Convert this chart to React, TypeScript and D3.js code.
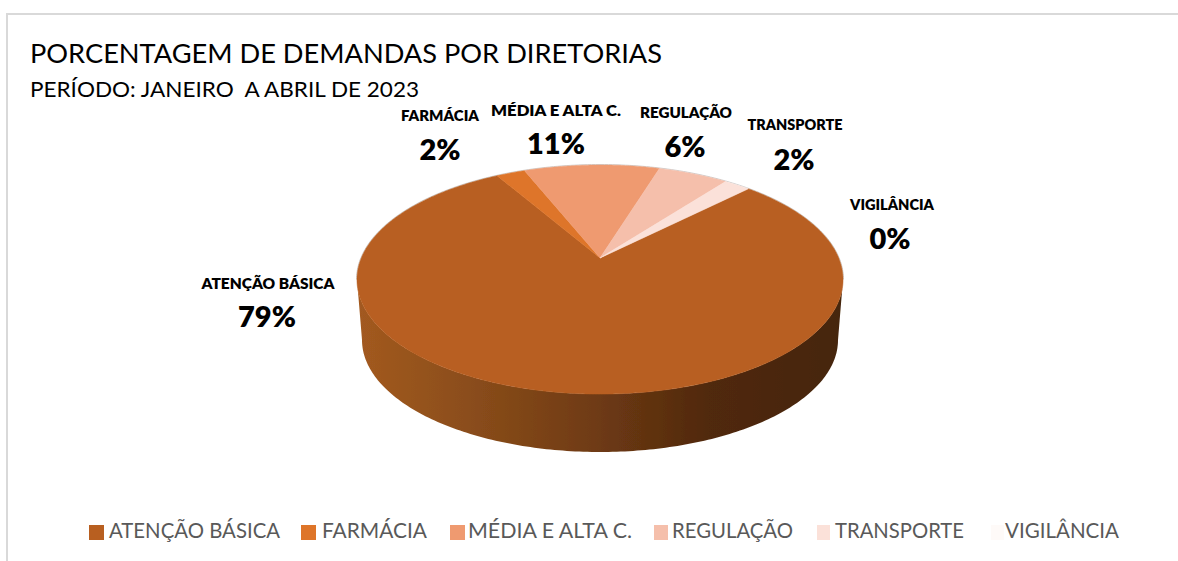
import React from "react";
import * as d3 from "d3";

const categories = ["ATENÇÃO BÁSICA", "FARMÁCIA", "MÉDIA E ALTA C.", "REGULAÇÃO", "TRANSPORTE", "VIGILÂNCIA"];
const values = [79.2, 2.3, 10.8, 5.6, 2.1, 0.0];
const colors = ["#B85F20", "#DE7529", "#EF9A70", "#F5BFAB", "#FBE1D9", "#FEFAF8"];
const titleText = "PORCENTAGEM DE DEMANDAS POR DIRETORIAS";
const subtitleText = "PERÍODO: JANEIRO  A ABRIL DE 2023";

const W = 1178, H = 561;
const FONT = "Lato, 'Open Sans', sans-serif";
// perspective disc
const APEX = { x: 600, y: 258 };
const RX = 238.7, RY = 110.5, K = 0.188;
const START_DEG = 44.8;
const DEPTH_BOTTOM = { cx: 600, cy: 340, rx: 238, ry: 112 };
const TOP_ELLIPSE = { cx: 600, cy: 279.5, rx: 243, ry: 114.5 };

const labelLayout = [
  { x: 268, y: 289, px: 267, py: 327, w: 133 },
  { x: 440, y: 121, px: 440, py: 160, w: 78 },
  { x: 556, y: 116, px: 556, py: 154, w: 130 },
  { x: 686, y: 118, px: 685, py: 157, w: 92 },
  { x: 795, y: 130, px: 794, py: 170, w: 95 },
  { x: 892, y: 210, px: 890, py: 249, w: 84 },
];
const legendLayout = [
  { sx: 89, sw: 15, tx: 109, tw: 171 },
  { sx: 301, sw: 15, tx: 322, tw: 105 },
  { sx: 450, sw: 15, tx: 468, tw: 164 },
  { sx: 654, sw: 14, tx: 672, tw: 121 },
  { sx: 817, sw: 13, tx: 835, tw: 129 },
  { sx: 991, sw: 13, tx: 1005, tw: 114 },
];

const project = (a: number): [number, number] => {
  const w = 1 + K * Math.cos(a);
  return [APEX.x + (RX * Math.sin(a)) / w, APEX.y - (RY * Math.cos(a)) / w];
};

const line = d3.line<[number, number]>().x((d) => d[0]).y((d) => d[1]);

const slicePath = (a0: number, a1: number): string => {
  const n = Math.max(2, Math.ceil((a1 - a0) / 0.01));
  const pts: [number, number][] = [[APEX.x, APEX.y]];
  d3.range(n + 1).forEach((i) => pts.push(project(a0 + ((a1 - a0) * i) / n)));
  return line(pts)! + "Z";
};

const wallPath = (): string => {
  const t = TOP_ELLIPSE, b = DEPTH_BOTTOM;
  const n = 180;
  const pts: [number, number][] = [];
  d3.range(n + 1).forEach((i) => {
    const a = Math.PI - (Math.PI * i) / n;
    pts.push([t.cx + t.rx * Math.cos(a), t.cy + t.ry * Math.sin(a)]);
  });
  d3.range(n + 1).forEach((i) => {
    const a = (Math.PI * i) / n;
    pts.push([b.cx + b.rx * Math.cos(a), b.cy + b.ry * Math.sin(a)]);
  });
  return line(pts)! + "Z";
};

const backRimPath = (): string => {
  const t = TOP_ELLIPSE;
  const n = 180;
  return line(
    d3.range(n + 1).map((i) => {
      const a = Math.PI + (Math.PI * i) / n;
      return [t.cx + (t.rx + 0.5) * Math.cos(a), t.cy + (t.ry + 0.5) * Math.sin(a)] as [number, number];
    })
  )!;
};

export default function App() {
  const pie = d3
    .pie<number>()
    .sort(null)
    .startAngle((START_DEG * Math.PI) / 180)
    .endAngle((START_DEG * Math.PI) / 180 + 2 * Math.PI);
  const arcs = pie(values);
  const color = d3.scaleOrdinal<string, string>().domain(categories).range(colors);
  const pct = d3.format(".0f");

  return (
    <div style={{ position: "absolute", left: 0, top: 0, width: W, height: H }}>
      <svg width={W} height={H} style={{ display: "block", background: "#fff" }}>
        <defs>
          <linearGradient id="wall" x1="356" x2="842" y1="0" y2="0" gradientUnits="userSpaceOnUse">
            <stop offset="0" stopColor="#A35A20" />
            <stop offset="0.22" stopColor="#8C4E1B" />
            <stop offset="0.5" stopColor="#6E3A13" />
            <stop offset="0.72" stopColor="#51290E" />
            <stop offset="1" stopColor="#45250C" />
          </linearGradient>
          <filter id="soft" x="-5%" y="-5%" width="110%" height="110%">
            <feGaussianBlur stdDeviation="0.5" />
          </filter>
        </defs>
        <path d={`M7,561V14H1178`} fill="none" stroke="#D9D9D9" strokeWidth={2} />
        <text x={30} y={63} fontFamily={FONT} fontSize={27.5} fill="#000" textLength={632} lengthAdjust="spacingAndGlyphs">
          {titleText}
        </text>
        <text x={30} y={97} fontFamily={FONT} fontSize={22} fill="#000" textLength={389} lengthAdjust="spacingAndGlyphs" xmlSpace="preserve">
          {subtitleText}
        </text>

        <g filter="url(#soft)">
          <path d={wallPath()} fill="url(#wall)" />
          <path d={backRimPath()} fill="none" stroke="#CFCFCF" strokeWidth={1} />
          {arcs.map((a, i) =>
            a.endAngle - a.startAngle > 0 ? (
              <path key={i} d={slicePath(a.startAngle, a.endAngle)} fill={color(categories[i])} stroke={color(categories[i])} strokeWidth={0.5} />
            ) : null
          )}
        </g>

        {categories.map((c, i) => {
          const l = labelLayout[i];
          return (
            <g key={c} textAnchor="middle" fontFamily={FONT} fontWeight={700} fill="#000">
              <text x={l.x} y={l.y} fontSize={15} fontWeight={800} textLength={l.w} lengthAdjust="spacingAndGlyphs">{c}</text>
              <text x={l.px} y={l.py} fontSize={29} fontWeight={800}>{pct(values[i])}%</text>
            </g>
          );
        })}

        {categories.map((c, i) => {
          const l = legendLayout[i];
          return (
            <g key={c}>
              <rect x={l.sx} y={525} width={l.sw} height={15} fill={color(c)} />
              <text x={l.tx} y={538} fontFamily={FONT} fontSize={22} fill="#595959" textLength={l.tw} lengthAdjust="spacingAndGlyphs">{c}</text>
            </g>
          );
        })}
      </svg>
    </div>
  );
}
